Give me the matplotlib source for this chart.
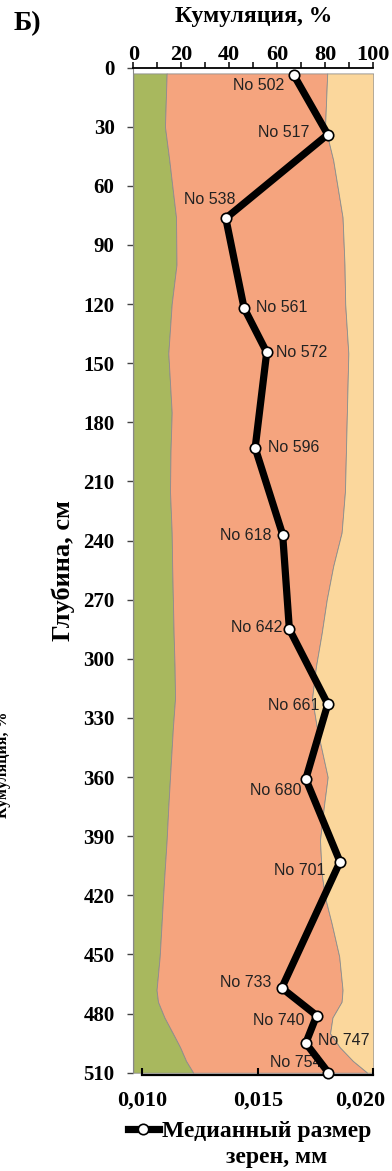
import matplotlib
matplotlib.use("Agg")
import matplotlib.pyplot as plt
from matplotlib.ticker import MultipleLocator, FixedLocator, FixedFormatter
from matplotlib.lines import Line2D
from matplotlib.transforms import ScaledTranslation

# --- samples: depth (cm) and median grain size (mm) ---
sample_ids = ["No 502", "No 517", "No 538", "No 561", "No 572", "No 596", "No 618",
              "No 642", "No 661", "No 680", "No 701", "No 733", "No 740", "No 747", "No 754"]
sample_depth = [4, 34, 76.5, 122, 144.5, 193, 237, 285, 323, 361, 403, 467, 481, 495, 510]
median_mm = [0.01657, 0.01803, 0.01362, 0.01441, 0.01539, 0.01489, 0.01608, 0.01637,
             0.01803, 0.01708, 0.01856, 0.01604, 0.01755, 0.01708, 0.01806]

# --- cumulative grain-size composition along the core (%) ---
profile_depth = [3, 30, 47, 76, 100, 120, 145, 175, 195, 215, 236, 253, 270, 287, 304,
                 320, 335, 360, 375, 392, 409, 421, 434, 451, 468, 474, 482, 490, 497, 504, 510]
clay_cum = [13.9, 13.2, 15.0, 17.8, 18.0, 16.0, 14.6, 16.0, 15.5, 15.3, 16.0, 16.2, 16.5,
            16.8, 17.2, 17.4, 16.5, 15.3, 14.6, 13.9, 13.0, 12.4, 11.8, 11.0, 9.7, 10.3,
            13.0, 16.5, 19.5, 22.0, 25.0]
silt_cum = [80.8, 79.9, 83.3, 87.2, 88.0, 88.3, 89.6, 89.0, 88.6, 88.2, 86.8, 83.3, 80.6,
            78.5, 76.1, 74.5, 76.5, 81.0, 79.4, 77.8, 78.5, 79.9, 82.6, 85.8, 87.2, 86.8,
            83.0, 82.0, 86.0, 91.5, 97.5]
total_cum = [100.0] * len(profile_depth)

depth_ticks = list(range(0, 511, 30))
cum_ticks = [0, 20, 40, 60, 80, 100]
size_ticks = [0.010, 0.015, 0.020]
size_labels = ["0,010", "0,015", "0,020"]

# label offsets from each marker, in pixels (right, down)
label_off = [(-35, 10), (-44, -2), (-16, -19), (38, 0), (35, 0), (39, 0), (-37, 1),
             (-33, -2), (-34, 1), (-30, 11), (-40, 9), (-36, -5), (-38, 5), (38, -3), (-33, -10)]

SERIF = "Liberation Serif"
SANS = "Liberation Sans"
plt.rcParams["font.family"] = SERIF
plt.rcParams["font.weight"] = "bold"
plt.rcParams["axes.labelweight"] = "bold"

W, H = 392, 1171
fig = plt.figure(figsize=(W / 100, H / 100), dpi=100)

x0, x1 = 133.3, 373.3
y0, y1 = 67.5, 1072.7
ax = fig.add_axes([x0 / W, (H - y1) / H, (x1 - x0) / W, (y1 - y0) / H])

# median grain size on its own bottom axis (created first so the top axis stays on top)
ax2 = ax.twiny()

# stacked composition layers
edge = "#8c8c8c"
ax.fill_betweenx(profile_depth, 0, clay_cum, facecolor="#a8b85e", edgecolor=edge, lw=0.6, zorder=1)
ax.fill_betweenx(profile_depth, clay_cum, silt_cum, facecolor="#f5a47e", edgecolor=edge, lw=0.6, zorder=1)
ax.fill_betweenx(profile_depth, silt_cum, total_cum, facecolor="#fbd79c", edgecolor=edge, lw=0.6, zorder=1)

ax.set_xlim(0, 100)
ax.set_ylim(510, 0)
ax.xaxis.set_ticks_position("top")
ax.xaxis.set_label_position("top")
ax.tick_params(axis="x", which="both", top=True, labeltop=True, bottom=False, labelbottom=False)
ax.xaxis.set_major_locator(FixedLocator(cum_ticks))
ax.xaxis.set_minor_locator(MultipleLocator(10))
ax.tick_params(axis="x", which="both", direction="out", length=4, width=1.1, color="black", pad=-2.5)
ax.tick_params(axis="x", which="major", labelsize=16)
ax.set_yticks(depth_ticks)
ax.tick_params(axis="y", direction="out", length=4.5, width=1.0, color="#444444", pad=9, labelsize=15)

for side in ("right", "bottom"):
    ax.spines[side].set_visible(False)
ax.spines["top"].set_linewidth(1.3)
ax.spines["left"].set_color("#888888")
ax.spines["left"].set_linewidth(0.8)

ax.set_xlabel("Кумуляция, %", fontsize=17, fontweight="bold", labelpad=17)
ax.set_ylabel("Глубина, см", fontsize=19, fontweight="bold", labelpad=6)

ax2.set_xlim(0.00962, 0.020)
ax2.set_ylim(510, 0)
ax2.xaxis.set_ticks_position("bottom")
ax2.xaxis.set_label_position("bottom")
ax2.tick_params(axis="x", which="both", top=False, labeltop=False, bottom=True, labelbottom=True)
ax2.xaxis.set_major_locator(FixedLocator(size_ticks))
ax2.xaxis.set_major_formatter(FixedFormatter(size_labels))
ax2.xaxis.set_minor_locator(FixedLocator([]))
ax2.tick_params(axis="x", direction="in", length=5, width=1.5, pad=11, labelsize=16)
for side in ("top", "left", "right"):
    ax2.spines[side].set_visible(False)
ax2.spines["bottom"].set_bounds(0.010, 0.020)
ax2.spines["bottom"].set_position(("outward", 2))
ax2.spines["bottom"].set_linewidth(1.6)
ax2.patch.set_visible(False)

ax2.plot(median_mm, sample_depth, color="black", lw=5.2, solid_joinstyle="miter",
         zorder=3, clip_on=False)
ax2.plot(median_mm, sample_depth, ls="none", marker="o", ms=7.5, mfc="white", mec="black",
         mew=1.2, zorder=4, clip_on=False)

for name, xv, yv, (dx, dy) in zip(sample_ids, median_mm, sample_depth, label_off):
    ax2.annotate(name, (xv, yv), xytext=(dx * 0.72, -dy * 0.72), textcoords="offset points",
                 ha="center", va="center", fontsize=11.5, fontfamily=SANS,
                 fontweight="normal", color="#222222", zorder=2, annotation_clip=False)

# legend for the line series
handle = Line2D([], [], color="black", lw=5.2, marker="o", ms=7.5, mfc="white",
                mec="black", mew=1.2)
leg = fig.legend([handle], ["Медианный размер"], loc="center left",
                 bbox_to_anchor=(128 / W, 1 - 1131 / H), frameon=False, borderpad=0,
                 borderaxespad=0, handlelength=1.3, handletextpad=0.15,
                 prop={"family": SERIF, "weight": "bold", "size": 17})
fig.text(277 / W, 1 - 1157 / H, "зерен, мм", ha="center", va="center", fontsize=17)

# panel letter and the side caption of the adjoining panel
fig.text(14 / W, 1 - 24 / H, "Б)", ha="left", va="center", fontsize=20)
fig.text(3 / W, 1 - 765 / H, "Кумуляция, %", rotation=90, ha="center", va="center",
         fontsize=11.5)

# make sure every tick label is bold serif; keep the last size label inside the figure
fig.canvas.draw()
for lab in (ax.get_xticklabels() + ax.get_yticklabels() + ax2.get_xticklabels()):
    lab.set_fontfamily(SERIF)
    lab.set_fontweight("bold")
last = ax2.get_xticklabels()[-1]
last.set_horizontalalignment("right")
last.set_transform(last.get_transform() + ScaledTranslation(12 / 100, 0, fig.dpi_scale_trans))

fig.savefig("out.png", dpi=100)
